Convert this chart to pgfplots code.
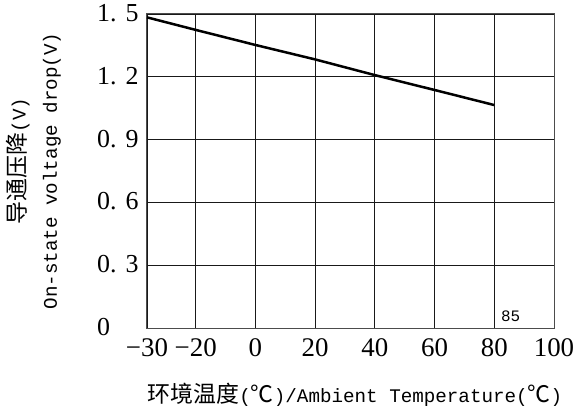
\documentclass[border=0pt]{standalone}
\usepackage{pgfplots}
\pgfplotsset{compat=1.18}
\usepackage{fontspec}
\setmainfont{Liberation Serif}
\setmonofont{Liberation Mono}
\newfontfamily\cjk{Noto Sans CJK SC}
\begin{document}
\begin{tikzpicture}
\begin{axis}[
  scale only axis,
  width=407bp, height=314bp,
  xmin=-36.33, xmax=100,
  ymin=0, ymax=1.5,
  clip=false,
  axis line style={black!70, line width=1bp},
  grid=major,
  grid style={black!90, line width=0.8bp},
  major tick length=0pt,
  xtick={-36.33,-20,0,20,40,60,80,100},
  xticklabels={−30,−20,0,20,40,60,80,100},
  ytick={0,0.3,0.6,0.9,1.2,1.5},
  yticklabels={0,0.\hspace{0.35em}3,0.\hspace{0.35em}6,0.\hspace{0.35em}9,1.\hspace{0.35em}2,1.\hspace{0.35em}5},
  xticklabel style={font=\fontsize{27}{27}\selectfont, anchor=center, inner sep=0pt, yshift=-20bp},
  yticklabel style={font=\fontsize{26}{26}\selectfont, anchor=west, inner sep=0pt, xshift=-50bp, yshift=1bp},
]
\addplot[black, line width=2.5bp] coordinates {
  (-36.33,1.484) (-20,1.424) (0,1.352) (20,1.283) (40,1.208) (60,1.137) (80,1.065)
};
\node[font=\fontsize{16}{16}\selectfont\ttfamily, inner sep=0pt] at (axis cs:85.5,0.057) {85};
\node[rotate=90, inner sep=0pt, font=\fontsize{23}{23}\selectfont] at ([xshift=-129bp,yshift=10bp]rel axis cs:0,0.5) {{\cjk 导通压降}{\fontsize{19.3}{19.3}\selectfont\ttfamily(V)}};
\node[rotate=90, inner sep=0pt, font=\fontsize{19.3}{19.3}\selectfont\ttfamily] at ([xshift=-95bp]rel axis cs:0,0.5) {On-state voltage drop(V)};
\node[inner sep=0pt, font=\fontsize{23}{23}\selectfont] at ([xshift=4.5bp,yshift=-67bp]rel axis cs:0.5,0) {{\cjk 环境温度}{\fontsize{19.3}{19.3}\selectfont\ttfamily(}{\cjk ℃}{\fontsize{19.3}{19.3}\selectfont\ttfamily)/Ambient Temperature(}{\cjk ℃}{\fontsize{19.3}{19.3}\selectfont\ttfamily)}};
\end{axis}
\path ([xshift=-147bp,yshift=-82bp]current axis.south west) rectangle ([xshift=28bp,yshift=14bp]current axis.north east);
\end{tikzpicture}
\end{document}
